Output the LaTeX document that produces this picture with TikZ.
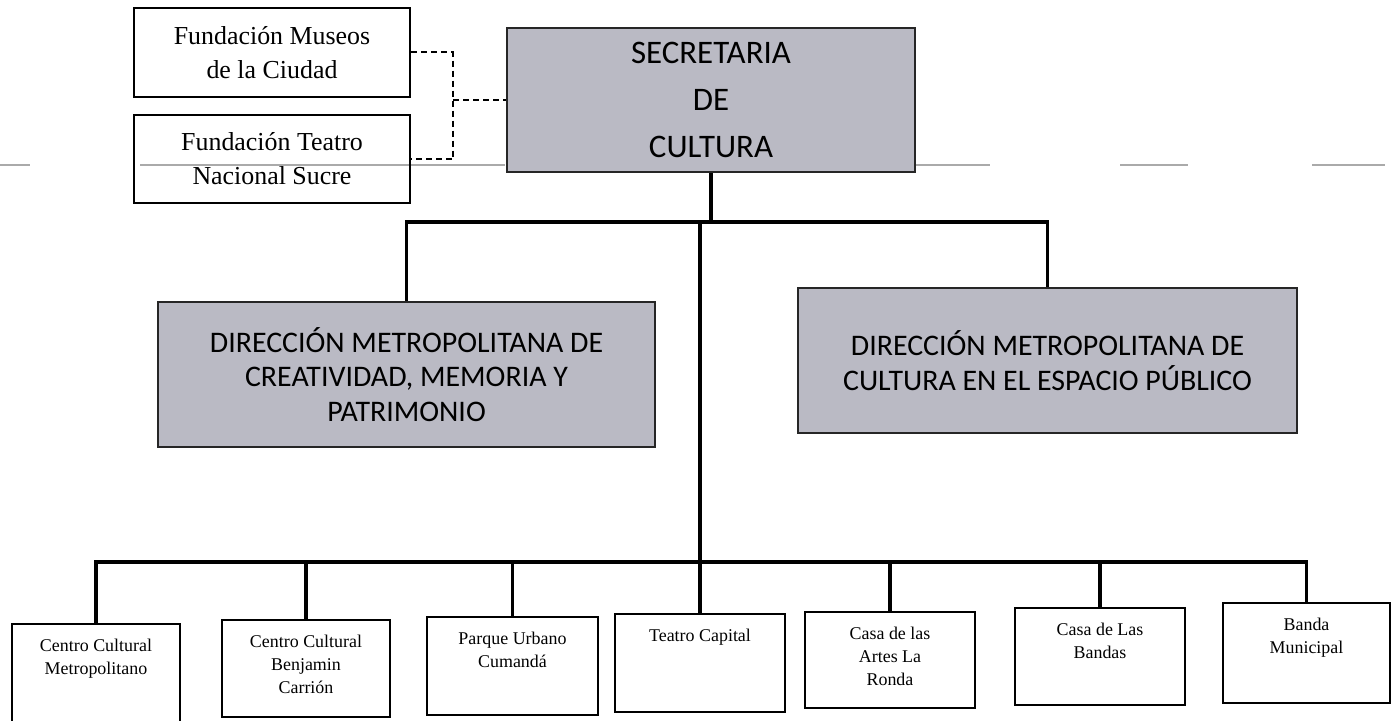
\documentclass[tikz,border=0pt]{standalone}
\usepackage{fontspec}
\setmainfont{Liberation Serif}
\newfontfamily\calib{Carlito}
\definecolor{boxgray}{RGB}{186,186,196}
\definecolor{scangray}{RGB}{170,170,170}
\tikzset{
  whitebox/.style={draw=black, line width=2bp, fill=white, inner sep=0pt},
  graybox/.style={draw=black!85, line width=2.2bp, fill=boxgray, inner sep=0pt},
  conn/.style={line width=3.5bp, black},
  dashconn/.style={line width=2bp, black, dash pattern=on 6bp off 4bp},
  scanline/.style={line width=1.5bp, scangray},
  toptxt/.style={font=\fontsize{26}{34}\selectfont, align=center},
  smalltxt/.style={font=\fontsize{18}{23}\selectfont, align=center, anchor=north, inner sep=0pt, yshift=-16bp},
  sectxt/.style={font=\calib\fontsize{33}{47}\selectfont, align=center},
  dirtxt/.style={font=\calib\fontsize{30}{35}\selectfont, align=center},
}
\begin{document}
\begin{tikzpicture}[x=1bp,y=-1bp]
\useasboundingbox (0,0) rectangle (1399,720);

% scan artefact line
\draw[scanline] (0,165) -- (30,165);
\draw[scanline] (140,165) -- (505,165);
\draw[scanline] (915,165) -- (990,165);
\draw[scanline] (1120,165) -- (1188,165);
\draw[scanline] (1312,165) -- (1385,165);

% top boxes
\node[whitebox, minimum width=276bp, minimum height=89bp, toptxt] (Mus) at (272,52.5)
  {Fundación Museos\\de la Ciudad};
\node[whitebox, minimum width=276bp, minimum height=88bp, toptxt, fill=none] (Teat) at (272,159)
  {Fundación Teatro\\Nacional Sucre};
\node[graybox, minimum width=408bp, minimum height=144bp, sectxt] (Sec) at (711,100)
  {SECRETARIA\\DE\\CULTURA};

% direcciones
\node[graybox, minimum width=497bp, minimum height=145bp, dirtxt] (D1) at (406.5,374.5)
  {DIRECCIÓN METROPOLITANA DE\\CREATIVIDAD, MEMORIA Y\\PATRIMONIO};
\node[graybox, minimum width=499bp, minimum height=145bp, dirtxt] (D2) at (1047.5,360.5)
  {DIRECCIÓN METROPOLITANA DE\\CULTURA EN EL ESPACIO PÚBLICO};

% bottom boxes
\node[whitebox, minimum width=168bp, minimum height=102bp] (b1) at (96,675) {};
\node[whitebox, minimum width=168bp, minimum height=97bp] (b2) at (306,668.5) {};
\node[whitebox, minimum width=171bp, minimum height=98bp] (b3) at (512.5,666) {};
\node[whitebox, minimum width=170bp, minimum height=98bp] (b4) at (700,663) {};
\node[whitebox, minimum width=170bp, minimum height=96bp] (b5) at (890,660) {};
\node[whitebox, minimum width=170bp, minimum height=97bp] (b6) at (1100,656.5) {};
\node[whitebox, minimum width=167bp, minimum height=100bp] (b7) at (1306.5,653) {};

\node[smalltxt] (t1) at (b1.north) {Centro Cultural\\Metropolitano};
\node[smalltxt] (t2) at (b2.north) {Centro Cultural\\Benjamin\\Carrión};
\node[smalltxt] (t3) at (b3.north) {Parque Urbano\\Cumandá};
\node[smalltxt] (t4) at (b4.north) {Teatro Capital};
\node[smalltxt] (t5) at (b5.north) {Casa de las\\Artes La\\Ronda};
\node[smalltxt] (t6) at (b6.north) {Casa de Las\\Bandas};
\node[smalltxt] (t7) at (b7.north) {Banda\\Municipal};

% dashed links
\coordinate (dj) at (453,100);
\draw[dashconn] (Mus.east) -| (dj) |- (Teat.east);
\draw[dashconn] (dj) -- (Sec.west);

% solid connectors
\draw[conn] (Sec.south) -- (Sec.south |- 0,222) coordinate (jt);
\draw[conn] (D1.north) -- (D1.north |- jt) -- (D2.north |- jt) -- (D2.north);
\draw[conn] (b4.north |- jt) -- (b4.north);
\draw[conn] (b1.north) -- (b1.north |- 0,562) coordinate (jb) -- (b7.north |- jb) -- (b7.north);
\draw[conn] (b2.north |- jb) -- (b2.north);
\draw[conn] (b3.north |- jb) -- (b3.north);
\draw[conn] (b5.north |- jb) -- (b5.north);
\draw[conn] (b6.north |- jb) -- (b6.north);
\end{tikzpicture}
\end{document}
